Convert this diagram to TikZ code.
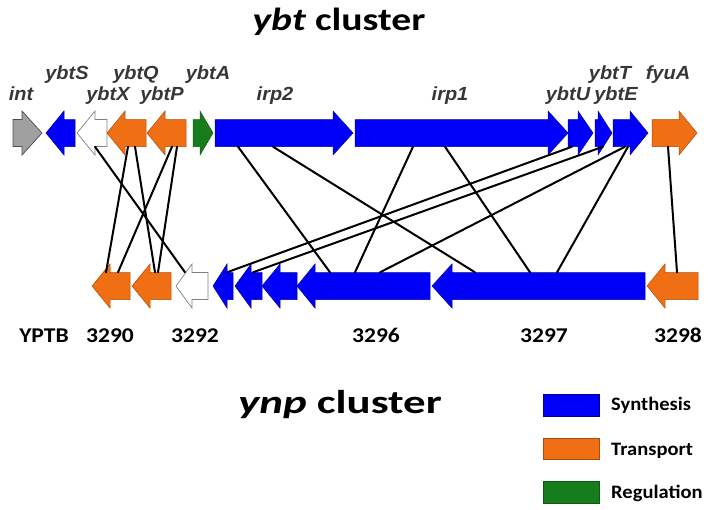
\documentclass[tikz,border=0pt]{standalone}
\usepackage{fontspec}
\setmainfont{Carlito}
\newfontfamily\genefont{Liberation Sans}
\usetikzlibrary{calc}

\definecolor{synth}{RGB}{0,0,250}
\definecolor{transp}{RGB}{240,110,20}
\definecolor{regul}{RGB}{22,125,28}
\definecolor{intgray}{RGB}{160,160,160}
\definecolor{labgray}{RGB}{55,55,55}

%% \rgene{name}{x1}{x2}{y}{head}{style}: arrow pointing right
\newcommand\rgene[6]{
  \node[inner sep=0,minimum width={#3-#2},minimum height=27] (#1) at ({(#2+#3)/2},#4) {};
  \draw[#6] (#2,{#4-13.5}) -- ({#3-#5},{#4-13.5}) -- ({#3-#5},{#4-22}) -- (#3,#4)
    -- ({#3-#5},{#4+22}) -- ({#3-#5},{#4+13.5}) -- (#2,{#4+13.5}) -- cycle;
}
%% \lgene{name}{x1}{x2}{y}{head}{style}: arrow pointing left
\newcommand\lgene[6]{
  \node[inner sep=0,minimum width={#3-#2},minimum height=27] (#1) at ({(#2+#3)/2},#4) {};
  \draw[#6] (#3,{#4-13.5}) -- ({#2+#5},{#4-13.5}) -- ({#2+#5},{#4-22}) -- (#2,#4)
    -- ({#2+#5},{#4+22}) -- ({#2+#5},{#4+13.5}) -- (#3,{#4+13.5}) -- cycle;
}

\begin{document}
\begin{tikzpicture}[x=1pt,y=1pt,
    syn/.style={fill=synth,draw=synth!60!black,line width=0.5pt},
    tra/.style={fill=transp,draw=transp!70!black,line width=0.5pt},
    reg/.style={fill=regul,draw=regul!70!black,line width=0.5pt},
    unk/.style={fill=white,draw=gray,line width=0.7pt},
    igr/.style={fill=intgray,draw=black!70,line width=0.7pt},
    gname/.style={anchor=base,text=labgray,inner sep=0,xscale=1.05,
      font=\genefont\bfseries\itshape\fontsize{19}{19}\selectfont},
    num/.style={anchor=base,inner sep=0,xscale=1.12,font=\bfseries\fontsize{21}{21}\selectfont},
    key/.style={anchor=base west,inner sep=0,xscale=1.08,font=\bfseries\fontsize{19}{19}\selectfont},
    link/.style={line width=2pt,line cap=round}]
  \useasboundingbox (0,0) rectangle (708,-509);

  % titles
  \node[anchor=base,inner sep=0,xscale=1.24,font=\bfseries\fontsize{32}{32}\selectfont] (ybt) at (339,-30) {\textit{ybt} cluster};
  \node[anchor=base,inner sep=0,xscale=1.36,font=\bfseries\fontsize{33}{33}\selectfont] (ynp) at (340,-413) {\textit{ynp} cluster};

  % ybt genes
  \rgene{int}{13}{42}{-133}{20}{igr}
  \lgene{ybtS}{46}{75}{-133}{18}{syn}
  \lgene{ybtX}{77}{107}{-133}{18}{unk}
  \lgene{ybtQ}{107}{146}{-133}{18}{tra}
  \lgene{ybtP}{147}{186}{-133}{18}{tra}
  \rgene{ybtA}{193}{213}{-133}{13}{reg}
  \rgene{irp2}{215}{353}{-133}{20}{syn}
  \rgene{irp1}{355}{568}{-133}{20}{syn}
  \rgene{ybtU}{568}{593}{-133}{15}{syn}
  \rgene{ybtT}{595}{612}{-133}{14}{syn}
  \rgene{ybtE}{613}{648}{-133}{18}{syn}
  \rgene{fyuA}{652}{697}{-133}{18}{tra}

  \node[gname] (lybtS) at (67,-79) {ybtS};
  \node[gname] (lybtQ) at (136,-79) {ybtQ};
  \node[gname] (lybtA) at (208,-79) {ybtA};
  \node[gname] (lybtT) at (610,-79) {ybtT};
  \node[gname] (lfyuA) at (668,-79) {fyuA};
  \node[gname] (lint) at (21,-100) {int};
  \node[gname] (lybtX) at (108,-100) {ybtX};
  \node[gname] (lybtP) at (162,-100) {ybtP};
  \node[gname] (lirp2) at (275,-100) {irp2};
  \node[gname] (lirp1) at (450,-100) {irp1};
  \node[gname] (lybtU) at (568,-100) {ybtU};
  \node[gname] (lybtE) at (616,-100) {ybtE};

  % ynp genes
  \lgene{y3290}{92}{130}{-286}{18}{tra}
  \lgene{y3291}{132}{171}{-286}{18}{tra}
  \lgene{y3292}{176}{208}{-286}{16}{unk}
  \lgene{y3293}{213}{233}{-286}{14}{syn}
  \lgene{y3294}{235}{262}{-286}{16}{syn}
  \lgene{y3295}{262}{297}{-286}{18}{syn}
  \lgene{y3296}{297}{430}{-286}{18}{syn}
  \lgene{y3297}{432}{645}{-286}{20}{syn}
  \lgene{y3298}{647}{698}{-286}{18}{tra}

  \node[num] (yptb) at (44,-342) {YPTB};
  \node[num] (n3290) at (110,-342) {3290};
  \node[num] (n3292) at (195,-342) {3292};
  \node[num] (n3296) at (376,-342) {3296};
  \node[num] (n3297) at (544,-342) {3297};
  \node[num] (n3298) at (678,-342) {3298};

  % homologous genes
  \foreach \a/\p/\b/\q in {ybtX/95/y3292/185, ybtQ/128/y3290/106, ybtQ/135/y3291/155,
      ybtP/172/y3290/118, ybtP/177/y3291/158, irp2/238/y3296/330, irp2/273/y3297/475,
      irp1/413/y3296/355, irp1/445/y3297/530, ybtU/572/y3293/227, ybtT/603/y3294/253,
      ybtE/625/y3296/380, ybtE/628/y3297/557, fyuA/668/y3298/677}
    \draw[link] (\p,0 |- \a.south) -- (\q,0 |- \b.north);

  % legend
  \node[syn,minimum width=56,minimum height=22,inner sep=0] (ksyn) at (571,-405) {};
  \node[tra,minimum width=56,minimum height=21,inner sep=0] (ktra) at (571,-448.5) {};
  \node[reg,minimum width=56,minimum height=22,inner sep=0] (kreg) at (571,-492) {};
  \node[key] (tsyn) at (611,-410) {Synthesis};
  \node[key] (ttra) at (611,-455) {Transport};
  \node[key] (treg) at (611,-498) {Regulation};
\end{tikzpicture}
\end{document}
